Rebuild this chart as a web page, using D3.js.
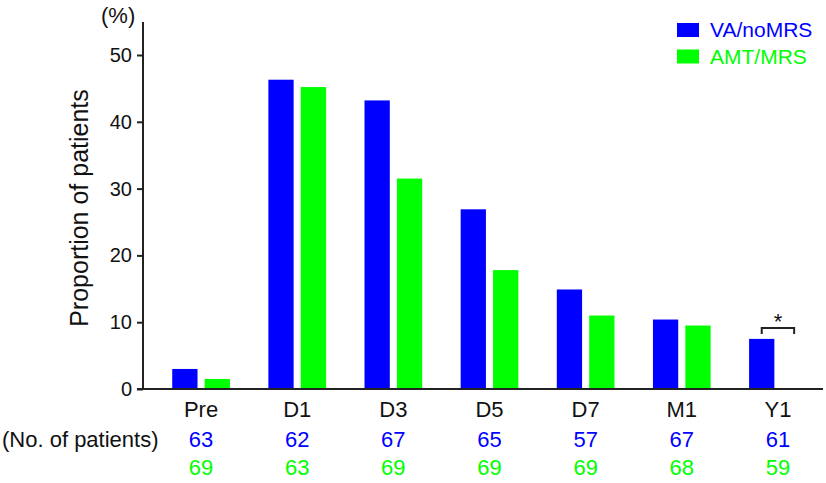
<!DOCTYPE html>
<html>
<head>
<meta charset="utf-8">
<script src="https://cdn.jsdelivr.net/npm/d3@7"></script>
<style>
  body { margin: 0; background: #fff; }
  text { font-family: "Liberation Sans", Arial, sans-serif; }
</style>
</head>
<body>
<div id="chart"></div>
<script>
// chart data
var timepoints = ["Pre", "D1", "D3", "D5", "D7", "M1", "Y1"];
var groups = ["VA/noMRS", "AMT/MRS"];
var vaValues = [3.0, 46.3, 43.2, 26.9, 14.9, 10.4, 7.5];
var amtValues = [1.5, 45.2, 31.5, 17.8, 11.0, 9.5, 0];
var vaCounts = [63, 62, 67, 65, 57, 67, 61];
var amtCounts = [69, 63, 69, 69, 69, 68, 59];
var yTicks = [0, 10, 20, 30, 40, 50];

var colors = { "VA/noMRS": "#0000ff", "AMT/MRS": "#00ff00" };

var svgWidth = 826;
var svgHeight = 483;

var svg = d3.select("#chart")
    .append("svg")
    .attr("width", svgWidth)
    .attr("height", svgHeight);

var axisX = 143;
var y0 = 389;

// scales
var yScale = d3.scaleLinear()
    .domain([0, 50])
    .range([y0, 55]);

var xScale = d3.scaleBand()
    .domain(timepoints)
    .range([153, 826])
    .paddingInner(0.4)
    .paddingOuter(0.2);

var xInner = d3.scaleBand()
    .domain(groups)
    .range([0, xScale.bandwidth()])
    .paddingInner(0.22);

var data = timepoints.map(function(t, i) {
    return { tp: t, vals: [
        { g: groups[0], v: vaValues[i] },
        { g: groups[1], v: amtValues[i] }
    ] };
});

// bars
var groupSel = svg.selectAll(".grp")
    .data(data)
    .enter()
    .append("g")
    .attr("class", "grp")
    .attr("transform", d => `translate(${xScale(d.tp)},0)`);

groupSel.selectAll("rect")
    .data(d => d.vals.filter(e => e.v > 0))
    .enter()
    .append("rect")
    .attr("x", d => xInner(d.g))
    .attr("y", d => yScale(d.v))
    .attr("width", xInner.bandwidth())
    .attr("height", d => y0 - yScale(d.v))
    .attr("fill", d => colors[d.g]);

// y axis
var leftAxis = d3.axisLeft(yScale)
    .tickValues(yTicks)
    .tickSize(6)
    .tickPadding(5);

var yAxisG = svg.append("g")
    .attr("transform", `translate(${axisX},0)`)
    .call(leftAxis);
yAxisG.select(".domain").remove();
yAxisG.selectAll("line").attr("stroke", "#222").attr("stroke-width", 2);
yAxisG.selectAll("text")
    .attr("font-size", "20px")
    .attr("fill", "#111")
    .style("font-family", "Liberation Sans, Arial, sans-serif");

svg.append("line")
    .attr("x1", axisX).attr("x2", axisX)
    .attr("y1", 22).attr("y2", y0 + 1)
    .attr("stroke", "#222").attr("stroke-width", 2);

// x axis line
svg.append("line")
    .attr("x1", axisX - 6).attr("x2", 823)
    .attr("y1", y0).attr("y2", y0)
    .attr("stroke", "#222").attr("stroke-width", 2);

// category labels
svg.selectAll(".cat")
    .data(timepoints)
    .enter()
    .append("text")
    .attr("class", "cat")
    .attr("x", d => xScale(d) + xScale.bandwidth() / 2)
    .attr("y", 417)
    .attr("text-anchor", "middle")
    .attr("font-size", "22px")
    .attr("fill", "#111")
    .text(d => d);

// patient counts
svg.selectAll(".vaN")
    .data(vaCounts)
    .enter()
    .append("text")
    .attr("x", (d, i) => xScale(timepoints[i]) + xScale.bandwidth() / 2)
    .attr("y", 447)
    .attr("text-anchor", "middle")
    .attr("font-size", "22px")
    .attr("fill", colors["VA/noMRS"])
    .text(d => d);

svg.selectAll(".amtN")
    .data(amtCounts)
    .enter()
    .append("text")
    .attr("x", (d, i) => xScale(timepoints[i]) + xScale.bandwidth() / 2)
    .attr("y", 475)
    .attr("text-anchor", "middle")
    .attr("font-size", "22px")
    .attr("fill", colors["AMT/MRS"])
    .text(d => d);

svg.append("text")
    .attr("x", 2)
    .attr("y", 447)
    .attr("font-size", "22px")
    .attr("fill", "#111")
    .text("(No. of patients)");

// axis titles
svg.append("text")
    .attr("x", 101)
    .attr("y", 23)
    .attr("font-size", "22px")
    .attr("fill", "#111")
    .text("(%)");

svg.append("text")
    .attr("transform", "translate(88, 208) rotate(-90)")
    .attr("text-anchor", "middle")
    .attr("font-size", "25px")
    .attr("fill", "#111")
    .text("Proportion of patients");

// significance bracket at Y1
var bx = xScale("Y1");
var bl = bx + xInner(groups[0]) + xInner.bandwidth() / 2;
var br = bx + xInner(groups[1]) + xInner.bandwidth() / 2;
var by = 328;
svg.append("path")
    .attr("d", `M${bl},${by + 6}V${by}H${br}V${by + 6}`)
    .attr("fill", "none")
    .attr("stroke", "#222")
    .attr("stroke-width", 2);
svg.append("text")
    .attr("x", (bl + br) / 2)
    .attr("y", by + 1)
    .attr("text-anchor", "middle")
    .attr("font-size", "22px")
    .attr("fill", "#111")
    .text("*");

// legend
var legend = svg.selectAll(".legend")
    .data(groups)
    .enter()
    .append("g")
    .attr("transform", (d, i) => `translate(677, ${23 + i * 26.5})`);

legend.append("rect")
    .attr("width", 22)
    .attr("height", 14)
    .attr("fill", d => colors[d]);

legend.append("text")
    .attr("x", 33)
    .attr("y", 14)
    .attr("font-size", "21px")
    .attr("fill", d => colors[d])
    .text(d => d);
</script>
</body>
</html>
